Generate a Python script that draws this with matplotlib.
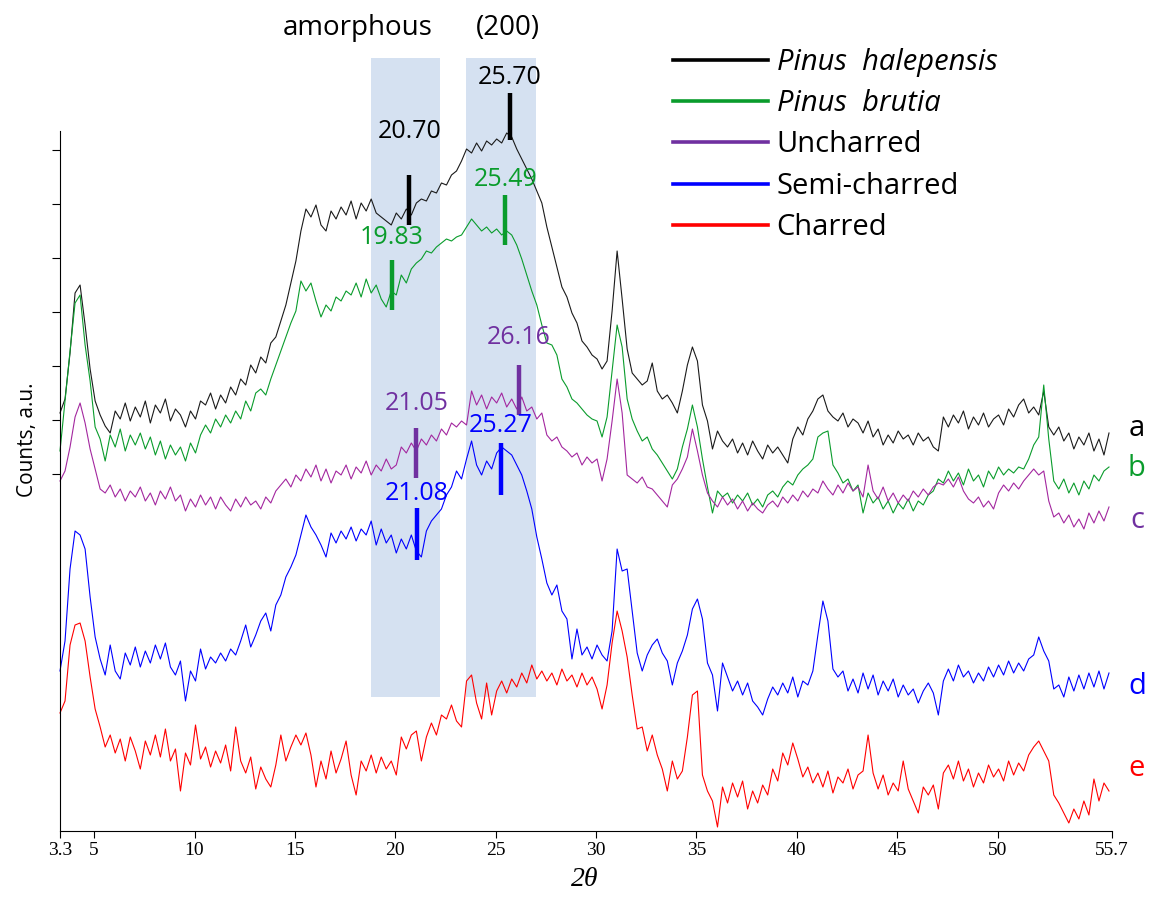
import numpy as np
import matplotlib.pyplot as plt
from matplotlib.patches import Rectangle
from matplotlib.lines import Line2D

# 2-theta grid: 0.25 deg steps starting at 3.3 (one row below = 2 degrees)
start_2theta = 3.3
step_2theta = 0.25

# stacked XRD patterns, offset counts (a.u.)
halepensis = [
    418, 432, 478, 538, 546, 506, 462, 430,
    416, 405, 398, 420, 412, 428, 410, 424,
    414, 430, 408, 426, 418, 432, 410, 422,
    416, 404, 420, 412, 430, 426, 438, 422,
    436, 428, 444, 436, 452, 446, 466, 458,
    474, 468, 488, 494, 510, 526, 548, 570,
    600, 622, 614, 626, 606, 600, 620, 612,
    624, 616, 630, 612, 628, 620, 632, 618,
    614, 610, 606, 618, 612, 622, 616, 628,
    632, 630, 640, 638, 648, 646, 656, 660,
    670, 682, 678, 688, 680, 690, 686, 692,
    688, 698, 694, 682, 672, 662, 652, 640,
    628, 604, 584, 564, 544, 534, 518, 508,
    490, 484, 476, 472, 462, 470, 520, 580,
    532, 482, 458, 452, 446, 450, 468, 440,
    432, 436, 428, 418, 440, 466, 484, 470,
    426, 410, 382, 400, 390, 384, 392, 378,
    388, 376, 390, 380, 372, 386, 378, 384,
    376, 368, 392, 404, 396, 412, 420, 432,
    436, 420, 414, 410, 418, 404, 412, 408,
    398, 410, 394, 402, 386, 396, 388, 400,
    392, 396, 386, 398, 390, 394, 384, 380,
    414, 404, 416, 408, 420, 402, 414, 406,
    418, 404, 412, 416, 406, 422, 414, 426,
    432, 418, 424, 416, 440, 404, 396, 404,
    390, 398, 382, 394, 386, 398, 380, 392,
    376, 398,
]

brutia = [
    380, 430, 480, 528, 536, 486, 450, 404,
    392, 370, 396, 384, 402, 380, 396, 386,
    398, 382, 394, 376, 390, 372, 386, 376,
    384, 370, 388, 378, 396, 406, 398, 412,
    404, 416, 408, 420, 412, 430, 420, 438,
    442, 436, 452, 466, 480, 494, 508, 520,
    550, 540, 548, 530, 514, 526, 520, 534,
    530, 540, 536, 548, 534, 552, 538, 546,
    532, 524, 540, 536, 556, 548, 562, 568,
    572, 580, 578, 584, 588, 592, 590, 594,
    596, 604, 612, 606, 600, 604, 598, 602,
    596, 600, 596, 586, 572, 556, 540, 526,
    506, 488, 486, 476, 452, 444, 432, 428,
    422, 416, 412, 410, 394, 414, 460, 506,
    484, 432, 412, 400, 390, 394, 382, 376,
    368, 360, 352, 362, 384, 402, 426, 404,
    372, 344, 318, 340, 334, 338, 328, 336,
    330, 338, 326, 332, 324, 336, 340, 334,
    344, 350, 346, 356, 362, 366, 372, 394,
    398, 400, 366, 358, 348, 352, 340, 346,
    318, 338, 328, 334, 322, 330, 318, 328,
    322, 332, 320, 330, 326, 336, 340, 352,
    348, 360, 350, 358, 346, 362, 350, 356,
    344, 360, 352, 364, 356, 362, 358, 364,
    362, 372, 386, 394, 446, 392, 350, 342,
    352, 338, 348, 336, 350, 342, 356, 350,
    360, 364,
]

uncharred = [
    350, 360, 384, 414, 428, 408, 382, 362,
    342, 338, 346, 334, 342, 330, 340, 334,
    344, 330, 338, 326, 340, 332, 344, 330,
    336, 320, 332, 324, 336, 326, 334, 322,
    334, 326, 320, 332, 324, 334, 326, 330,
    322, 334, 328, 340, 346, 352, 344, 356,
    350, 362, 354, 366, 350, 362, 348, 360,
    356, 366, 352, 364, 358, 370, 356, 366,
    360, 372, 362, 366, 384, 378, 388, 380,
    392, 386, 396, 390, 402, 396, 408, 404,
    410, 406, 440, 426, 436, 422, 434, 428,
    438, 424, 432, 422, 434, 420, 424, 412,
    418, 396, 390, 394, 384, 380, 374, 378,
    366, 374, 368, 372, 350, 372, 410, 452,
    418, 356, 352, 348, 354, 344, 342, 336,
    330, 324, 346, 352, 362, 374, 402, 380,
    356, 338, 330, 324, 334, 326, 332, 322,
    330, 320, 328, 322, 318, 326, 330, 324,
    334, 328, 336, 330, 340, 334, 342, 338,
    350, 342, 336, 346, 338, 348, 340, 344,
    334, 366, 340, 332, 344, 330, 338, 328,
    336, 330, 340, 334, 342, 336, 344, 348,
    346, 352, 344, 354, 340, 332, 328, 334,
    324, 330, 322, 338, 346, 340, 348, 342,
    350, 356, 362, 356, 360, 330, 314, 318,
    308, 316, 304, 312, 302, 318, 308, 320,
    310, 324,
]

semi_charred = [
    160, 190, 262, 300, 296, 282, 234, 194,
    172, 156, 186, 160, 152, 178, 166, 184,
    164, 180, 168, 186, 172, 188, 164, 156,
    170, 130, 160, 150, 182, 162, 174, 168,
    178, 170, 182, 176, 190, 206, 184, 196,
    210, 218, 200, 226, 236, 254, 264, 276,
    296, 316, 304, 296, 286, 274, 298, 288,
    300, 292, 304, 290, 302, 296, 310, 286,
    302, 288, 296, 278, 292, 282, 296, 280,
    274, 300, 310, 316, 322, 336, 344, 360,
    352, 372, 390, 366, 356, 370, 362, 378,
    384, 380, 376, 366, 356, 340, 322, 294,
    272, 248, 236, 246, 220, 212, 172, 202,
    176, 184, 172, 186, 176, 170, 200, 282,
    260, 262, 220, 178, 160, 176, 186, 192,
    178, 170, 146, 168, 180, 196, 222, 232,
    212, 168, 156, 120, 168, 154, 140, 150,
    136, 148, 130, 124, 116, 132, 144, 136,
    148, 138, 154, 134, 150, 146, 160, 196,
    230, 210, 162, 154, 160, 140, 152, 138,
    158, 142, 156, 136, 150, 140, 152, 134,
    146, 136, 142, 128, 140, 148, 138, 116,
    150, 162, 150, 166, 154, 160, 148, 158,
    150, 164, 154, 166, 156, 170, 158, 168,
    160, 172, 176, 194, 180, 170, 142, 146,
    134, 154, 140, 156, 142, 158, 144, 160,
    142, 158,
]

charred = [
    118, 130, 186, 206, 208, 190, 154, 122,
    104, 84, 96, 78, 92, 70, 94, 80,
    62, 90, 76, 96, 74, 102, 70, 82,
    40, 78, 66, 106, 72, 84, 64, 80,
    68, 86, 60, 104, 70, 58, 74, 42,
    64, 52, 44, 66, 96, 70, 84, 96,
    86, 98, 76, 44, 70, 52, 80, 58,
    72, 90, 56, 36, 70, 60, 76, 58,
    74, 62, 70, 56, 94, 82, 96, 100,
    70, 94, 108, 96, 116, 112, 126, 110,
    104, 150, 156, 128, 112, 148, 116, 140,
    150, 138, 152, 144, 158, 148, 166, 152,
    160, 150, 158, 146, 162, 150, 156, 144,
    158, 146, 154, 142, 122, 146, 188, 220,
    200, 174, 136, 102, 104, 80, 96, 76,
    62, 40, 70, 52, 60, 94, 136, 140,
    56, 40, 30, 4, 44, 28, 48, 34,
    50, 22, 40, 28, 46, 36, 62, 50,
    78, 66, 88, 72, 54, 64, 48, 58,
    44, 60, 38, 54, 48, 62, 42, 56,
    60, 96, 58, 42, 56, 36, 48, 40,
    70, 42, 30, 18, 44, 36, 46, 22,
    58, 66, 52, 70, 50, 62, 44, 58,
    48, 66, 54, 62, 50, 70, 56, 68,
    60, 76, 84, 90, 80, 70, 36, 28,
    18, 8, 22, 12, 30, 16, 52, 30,
    48, 40,
]

series_labels = ['Pinus  halepensis', 'Pinus  brutia', 'Uncharred', 'Semi-charred', 'Charred']
curve_letters = ['a', 'b', 'c', 'd', 'e']

# marked 2-theta positions (amorphous, (200)) for curves a-d
peaks_a = [20.70, 25.70]
peaks_b = [19.83, 25.49]
peaks_c = [21.05, 26.16]
peaks_d = [21.08, 25.27]

x_ticks = [3.3, 5, 10, 15, 20, 25, 30, 35, 40, 45, 50, 55.7]

line_colors = ['#1a1a1a', '#0a9c2c', '#a3279f', '#0000ff', '#ff0000']
text_colors = ['#000000', '#0a9c2c', '#7030a0', '#0000ff', '#ff0000']
legend_colors = ['#000000', '#0a9c2c', '#7030a0', '#0000ff', '#ff0000']

fig = plt.figure(figsize=(11.53, 8.98), dpi=100)
ax = fig.add_axes([60 / 1153, 67 / 898, 1052 / 1153, 831 / 898])
ax.set_xlim(3.3, 55.7)
ax.set_ylim(0, 831)

# shaded windows
for lo, hi in [(18.8, 22.22), (23.52, 27.0)]:
    ax.add_patch(Rectangle((lo, 134), hi - lo, 639, facecolor='#d5e1f1',
                           edgecolor='none', zorder=0))

all_series = [halepensis, brutia, uncharred, semi_charred, charred]
for ys, col in zip(all_series, line_colors):
    xs = start_2theta + step_2theta * np.arange(len(ys))
    ax.plot(xs, ys, color=col, lw=0.8, zorder=2, clip_on=False)

# peak markers: (bar bottom, bar top, label y) for each marked position
marker_layout = [
    [(606, 656, 699), (691, 738, 753)],
    [(521, 571, 593), (586, 636, 651)],
    [(353, 403, 428), (416, 466, 494)],
    [(271, 323, 338), (336, 388, 406)],
]
for peaks, layout, col in zip([peaks_a, peaks_b, peaks_c, peaks_d], marker_layout, text_colors):
    for pos, (y0, y1, yt) in zip(peaks, layout):
        ax.plot([pos, pos], [y0, y1], color=col, lw=3.2, solid_capstyle='butt', zorder=3)
        ax.text(pos, yt, f'{pos:.2f}', color=col, fontsize=18, family='Open Sans',
                ha='center', va='center', zorder=4)

ax.text(18.14, 803, 'amorphous', fontsize=20, family='Open Sans', ha='center', va='center')
ax.text(25.61, 803, '(200)', fontsize=20, family='Open Sans', ha='center', va='center')

for letter, yl, col in zip(curve_letters, [403, 363, 311, 145, 63], text_colors):
    ax.text(56.94, yl, letter, fontsize=21, family='Open Sans', color=col,
            ha='center', va='center', clip_on=False)

handles = [Line2D([], [], color=c, lw=2.6) for c in legend_colors]
leg = ax.legend(handles, series_labels, loc='upper left', frameon=False,
                bbox_to_anchor=(673 / 1153, 1 - 48 / 898), bbox_transform=fig.transFigure,
                borderaxespad=0, borderpad=0, handlelength=3.25, handletextpad=0.3,
                labelspacing=0.42, prop={'family': 'Open Sans', 'size': 21})
for t in leg.get_texts()[:2]:
    t.set_fontstyle('italic')

ax.spines['top'].set_visible(False)
ax.spines['right'].set_visible(False)
ax.spines['left'].set_bounds(0, 700)
ax.spines['left'].set_linewidth(0.8)
ax.spines['bottom'].set_linewidth(0.8)

ax.set_xticks(x_ticks)
ax.set_xticklabels([f'{t:g}' for t in x_ticks], family='Liberation Serif', fontsize=14)
ax.set_yticks([357, 411, 465, 519, 573, 627, 681])
ax.set_yticklabels([])
ax.tick_params(axis='x', direction='out', length=5, width=0.8, pad=3)
ax.tick_params(axis='y', direction='out', length=6, width=0.8)

fig.text(28 / 1153, 1 - 440 / 898, 'Counts, a.u.', rotation=90, family='Open Sans',
         fontsize=15, ha='center', va='center')
fig.text(585 / 1153, 1 - 880 / 898, '2\u03b8', family='Liberation Serif', style='italic',
         fontsize=20, ha='center', va='center')

fig.savefig('out.png', dpi=100)
